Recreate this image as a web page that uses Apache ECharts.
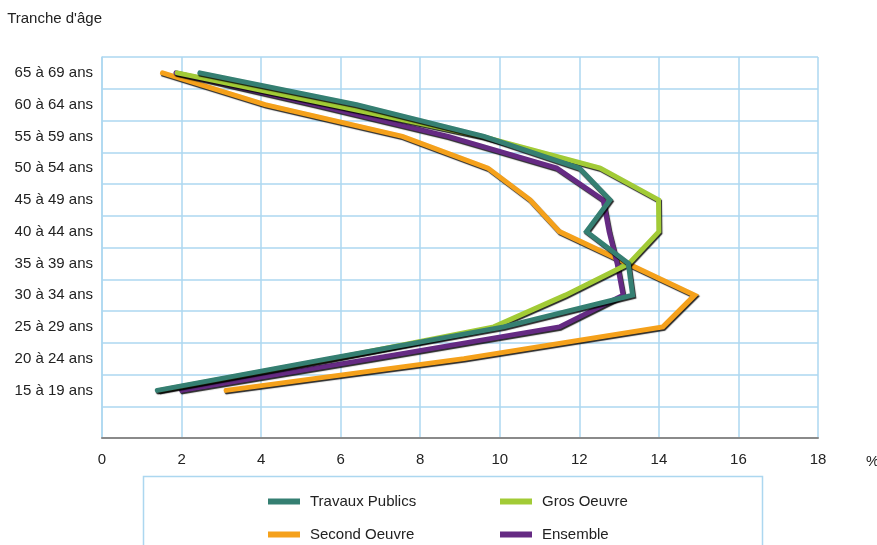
<!DOCTYPE html>
<html>
<head>
<meta charset="utf-8">
<script src="https://cdn.jsdelivr.net/npm/echarts@6/dist/echarts.min.js"></script>
<style>
  html, body { margin: 0; padding: 0; background: #ffffff; }
  #chart { width: 877px; height: 545px; }
</style>
</head>
<body>
<div id="chart"></div>
<script>
// Age bands, bottom to top
const ageBands = ['15 à 19 ans', '20 à 24 ans', '25 à 29 ans', '30 à 34 ans', '35 à 39 ans',
  '40 à 44 ans', '45 à 49 ans', '50 à 54 ans', '55 à 59 ans', '60 à 64 ans', '65 à 69 ans'];

// Share of employees (%) in each age band
const travauxPublics = [1.39, 5.7, 10.1, 13.34, 13.23, 12.18, 12.77, 12.0, 9.6, 6.4, 2.46];
const grosOeuvre     = [1.45, 5.8, 9.85, 11.65, 13.25, 14.0, 13.99, 12.52, 9.55, 5.74, 1.89];
const secondOeuvre   = [3.12, 9.1, 14.1, 14.9, 13.2, 11.5, 10.76, 9.7, 7.55, 4.1, 1.52];
const ensemble       = [2.0, 6.8, 11.5, 13.1, 12.95, 12.75, 12.6, 11.43, 8.7, 5.35, 1.86];

const xTicks = { min: 0, max: 18, interval: 2 };

const colors = {
  'Travaux Publics': '#357f72',
  'Gros Oeuvre': '#a2cb36',
  'Second Oeuvre': '#f5a11b',
  'Ensemble': '#652a83'
};

const gridBlue = '#acd7f0';
const textColor = '#222222';
const fontFamily = '"Liberation Sans", Arial, sans-serif';

// An empty band sits below the youngest age group
const yCategories = [''].concat(ageBands);
const withGap = arr => [null].concat(arr);

function lineSeries(name, values) {
  return {
    name: name,
    type: 'line',
    data: withGap(values),
    symbol: 'none',
    smooth: false,
    color: colors[name],
    lineStyle: {
      width: 5,
      color: colors[name],
      cap: 'round',
      join: 'miter',
      shadowColor: 'rgba(0,0,0,0.85)',
      shadowOffsetX: 1,
      shadowOffsetY: 1.5,
      shadowBlur: 1
    },
    emphasis: { disabled: true }
  };
}

function legendItem(name, left, top) {
  return {
    data: [name],
    left: left,
    top: top,
    icon: 'rect',
    itemWidth: 32,
    itemHeight: 6,
    selectedMode: false,
    textStyle: { color: textColor, fontSize: 15, fontFamily: fontFamily, padding: [0, 0, 0, 5] }
  };
}

const chart = echarts.init(document.getElementById('chart'), null, { renderer: 'canvas' });

chart.setOption({
  animation: false,
  backgroundColor: '#ffffff',
  grid: { left: 102, right: 59, top: 57, bottom: 107, containLabel: false, outerBoundsMode: 'none' },
  xAxis: {
    type: 'value',
    min: xTicks.min,
    max: xTicks.max,
    interval: xTicks.interval,
    axisLine: { show: true, lineStyle: { color: '#8a8a8a', width: 2 } },
    axisTick: { show: false },
    axisLabel: { color: textColor, fontSize: 15, fontFamily: fontFamily, margin: 14 },
    splitLine: { show: true, lineStyle: { color: gridBlue, width: 1.5 } }
  },
  yAxis: {
    type: 'category',
    data: yCategories,
    boundaryGap: true,
    name: "Tranche d'âge",
    nameLocation: 'end',
    nameGap: 31,
    nameTextStyle: { color: textColor, fontSize: 15, fontFamily: fontFamily, align: 'right' },
    axisLine: { show: true, lineStyle: { color: gridBlue, width: 1.5 } },
    axisTick: { show: false },
    axisLabel: { color: textColor, fontSize: 15, fontFamily: fontFamily, margin: 9 },
    splitLine: { show: true, lineStyle: { color: gridBlue, width: 1.5 } }
  },
  legend: [
    legendItem('Travaux Publics', 263, 489),
    legendItem('Gros Oeuvre', 495, 489),
    legendItem('Second Oeuvre', 263, 522),
    legendItem('Ensemble', 495, 522)
  ],
  graphic: [
    {
      type: 'rect',
      z: -1,
      shape: { x: 143.5, y: 476.5, width: 619, height: 120 },
      style: { fill: '#ffffff', stroke: gridBlue, lineWidth: 1.5 }
    },
    {
      type: 'text',
      left: 866,
      top: 454,
      style: { text: '%', fill: textColor, fontSize: 15, fontFamily: fontFamily }
    }
  ],
  series: [
    lineSeries('Second Oeuvre', secondOeuvre),
    lineSeries('Ensemble', ensemble),
    lineSeries('Gros Oeuvre', grosOeuvre),
    lineSeries('Travaux Publics', travauxPublics)
  ]
});
</script>
</body>
</html>
